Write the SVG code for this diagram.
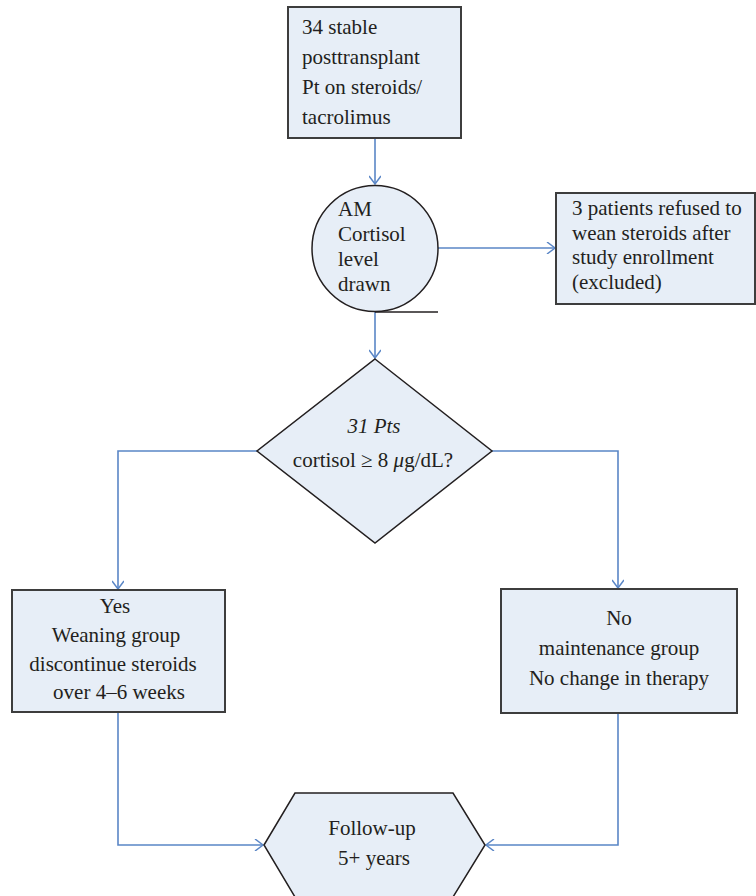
<svg xmlns="http://www.w3.org/2000/svg" width="756" height="896" viewBox="0 0 756 896">
<defs>
<style>
.shape{fill:#e7eef7;stroke:#231f20;stroke-width:1.5}
.box{fill:#e7eef7;stroke:#3d3d3d;stroke-width:2}
.conn{fill:none;stroke:#5a86c6;stroke-width:1.6}
text{font-family:"Liberation Serif","Times New Roman",serif;font-size:21px;fill:#231f20}
.c{text-anchor:middle}
</style>
<marker id="arr" viewBox="-10 -6 12 12" refX="0" refY="0" markerWidth="12" markerHeight="12" markerUnits="userSpaceOnUse" orient="auto">
<path d="M-8,-6 L0,0 L-8,6" fill="none" stroke="#5a86c6" stroke-width="1.5"/>
</marker>
</defs>
<g id="connectors">
<line class="conn" x1="375" y1="138" x2="375" y2="184" marker-end="url(#arr)"/>
<line class="conn" x1="438" y1="248" x2="555" y2="248" marker-end="url(#arr)"/>
<line class="conn" x1="375" y1="312" x2="375" y2="358" marker-end="url(#arr)"/>
<polyline class="conn" points="257,451 118,451 118,589" marker-end="url(#arr)"/>
<polyline class="conn" points="492,451 618,451 618,588" marker-end="url(#arr)"/>
<polyline class="conn" points="118,712 118,845 263,845" marker-end="url(#arr)"/>
<polyline class="conn" points="618,713 618,845 486,845" marker-end="url(#arr)"/>
</g>
<g id="start">
<rect class="box" x="288" y="7" width="173" height="131"/>
<text x="302" y="34">34 stable</text>
<text x="302" y="64">posttransplant</text>
<text x="302" y="94">Pt on steroids/</text>
<text x="302" y="124">tacrolimus</text>
</g>
<g id="cortisol">
<circle class="shape" cx="375" cy="248.5" r="63"/>
<line x1="375" y1="312" x2="438" y2="312" stroke="#231f20" stroke-width="1.5"/>
<text x="338" y="216">AM</text>
<text x="338" y="241">Cortisol</text>
<text x="338" y="266">level</text>
<text x="338" y="291">drawn</text>
</g>
<g id="excluded">
<rect class="box" x="556" y="193" width="199" height="111"/>
<text x="572" y="215">3 patients refused to</text>
<text x="572" y="239.5">wean steroids after</text>
<text x="572" y="264">study enrollment</text>
<text x="572" y="288.5">(excluded)</text>
</g>
<g id="decision">
<polygon class="shape" points="375,359 492,451 375,543 257,451"/>
<text class="c" x="374" y="433" font-style="italic">31 Pts</text>
<text class="c" x="373" y="467">cortisol ≥ 8 <tspan font-style="italic">μ</tspan>g/dL?</text>
</g>
<g id="yes">
<rect class="box" x="12" y="590" width="213" height="122"/>
<text class="c" x="115" y="613">Yes</text>
<text class="c" x="116" y="642">Weaning group</text>
<text class="c" x="113" y="671">discontinue steroids</text>
<text class="c" x="119" y="699">over 4–6 weeks</text>
</g>
<g id="no">
<rect class="box" x="501" y="589" width="236" height="124"/>
<text class="c" x="619" y="625">No</text>
<text class="c" x="619" y="655">maintenance group</text>
<text class="c" x="619" y="685">No change in therapy</text>
</g>
<g id="followup">
<polygon class="shape" points="264,845 295,793 453,793 485,845 453,897 295,897"/>
<text class="c" x="372" y="835">Follow-up</text>
<text class="c" x="374" y="865">5+ years</text>
</g>
</svg>
